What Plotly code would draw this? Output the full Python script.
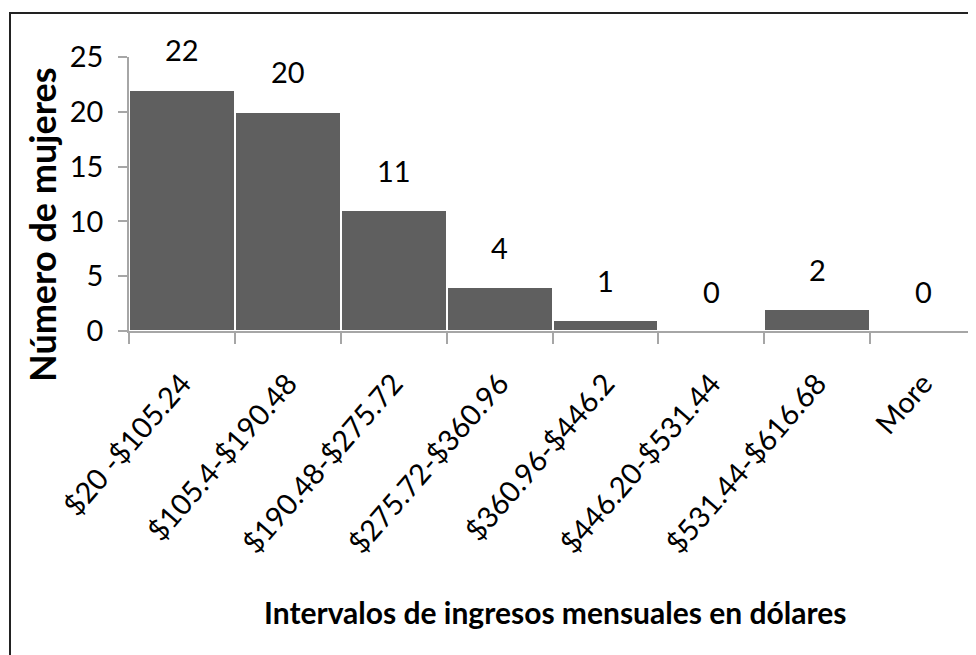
import plotly.graph_objects as go

categories = ["$20 -$105.24", "$105.4-$190.48", "$190.48-$275.72", "$275.72-$360.96",
              "$360.96-$446.2", "$446.20-$531.44", "$531.44-$616.68", "More"]
counts = [22, 20, 11, 4, 1, 0, 2, 0]
y_ticks = [0, 5, 10, 15, 20, 25]

# the page body adds an 8px offset; work in screen pixels and compensate
OFF = 8
W, H = 976 - OFF, 655 - OFF
L, R, T, B = 129 - OFF, 0, 57 - OFF, 655 - 331
pw, ph = W - L - R, H - T - B

def px_x(px):
    return (px - OFF - L) / pw

def px_y(py):
    return (H - B - (py - OFF)) / ph

FONT = "Lato, 'Open Sans', sans-serif"

fig = go.Figure()
fig.add_trace(go.Bar(
    x=categories, y=counts,
    marker=dict(color="#5f5f5f", line=dict(color="#ffffff", width=2)),
    hoverinfo="x+y",
))

for c, v in zip(categories, counts):
    fig.add_annotation(x=c, y=v, text=str(v), showarrow=False, yanchor="middle",
                       yshift=40, font=dict(family=FONT, size=29, color="#000000"))

fig.add_annotation(x=px_x(42), y=px_y(225), xref="paper", yref="paper",
                   xanchor="center", yanchor="middle",
                   text="Número de mujeres", textangle=-90, showarrow=False,
                   font=dict(family=FONT, size=36, color="#000000", weight="bold"))
fig.add_annotation(x=px_x(555), y=px_y(612), xref="paper", yref="paper",
                   xanchor="center", yanchor="middle",
                   text="Intervalos de ingresos mensuales en dólares", showarrow=False,
                   font=dict(family=FONT, size=30, color="#000000", weight="bold"))

fig.add_shape(type="rect", xref="paper", yref="paper",
              x0=px_x(10), x1=px_x(1100), y0=px_y(800), y1=px_y(13),
              line=dict(color="#222222", width=2), fillcolor="rgba(0,0,0,0)", layer="above")

fig.update_layout(
    width=W, height=H,
    margin=dict(l=L, r=R, t=T, b=B, pad=0, autoexpand=False),
    paper_bgcolor="white", plot_bgcolor="white",
    bargap=0, showlegend=False,
    xaxis=dict(type="category", range=[-0.5, 7.5], tickangle=-49, automargin=False,
               showline=True, linecolor="#a6a6a6", linewidth=2,
               ticks="outside", tickson="boundaries", ticklen=11, tickwidth=1.5,
               tickcolor="#a6a6a6", showgrid=False, ticklabelstandoff=22,
               tickfont=dict(family=FONT, size=29, color="#000000")),
    yaxis=dict(range=[0, 25], tickvals=y_ticks, showline=True, linecolor="#a6a6a6",
               linewidth=1.5, ticks="outside", ticklen=9, tickwidth=1.5, automargin=False,
               tickcolor="#a6a6a6", showgrid=False, zeroline=False, ticklabelstandoff=9,
               tickfont=dict(family=FONT, size=29, color="#000000")),
)

fig.write_html("out.html")
